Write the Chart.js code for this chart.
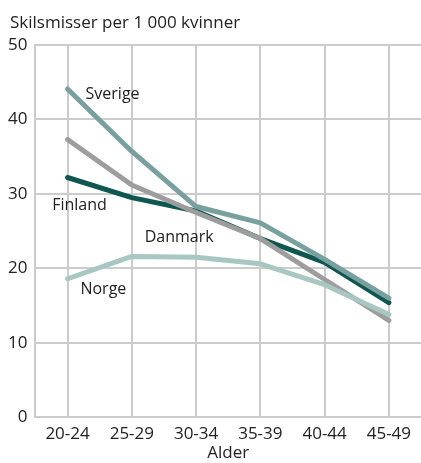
<!DOCTYPE html>
<html>
<head>
<meta charset="utf-8">
<script src="https://cdn.jsdelivr.net/npm/chart.js@4"></script>
<style>
  html, body { margin: 0; padding: 0; background: #fff; }
  #wrap { position: relative; width: 421px; height: 463px; }
  #title { position: absolute; left: 10px; top: 10px; font: 17px "Open Sans", sans-serif; color: #222; line-height: 24px; }
</style>
</head>
<body>
<div id="wrap">
  <div id="title">Skilsmisser per 1 000 kvinner</div>
  <canvas id="chart" width="421" height="463"></canvas>
</div>
<script>
const ageGroups = ['20-24', '25-29', '30-34', '35-39', '40-44', '45-49'];
const sverige = [44.1, 35.7, 28.3, 26.1, 21.2, 16.0];
const danmark = [37.3, 31.2, 27.5, 24.0, 18.5, 13.0];
const finland = [32.2, 29.5, 27.7, 24.0, 20.8, 15.4];
const norge = [18.6, 21.6, 21.5, 20.6, 17.8, 13.8];
const yTicks = [0, 10, 20, 30, 40, 50];

// labels placed next to lines: [text, category index, value]
const seriesLabels = [
  ['Sverige', 0.28, 43.4],
  ['Finland', -0.24, 28.4],
  ['Danmark', 1.2, 24.2],
  ['Norge', 0.2, 17.2]
];

const labelPlugin = {
  id: 'seriesLabels',
  afterDatasetsDraw(chart) {
    const ctx = chart.ctx;
    const xs = chart.scales.x, ys = chart.scales.y;
    ctx.save();
    ctx.font = '16px "Open Sans", sans-serif';
    ctx.fillStyle = '#222';
    ctx.textBaseline = 'middle';
    seriesLabels.forEach(l => {
      const step = xs.getPixelForValue(1) - xs.getPixelForValue(0);
      const x = xs.getPixelForValue(0) + l[1] * step;
      ctx.fillText(l[0], x, ys.getPixelForValue(l[2]));
    });
    ctx.restore();
  }
};

const line = (data, color) => ({
  data: data,
  borderColor: color,
  borderWidth: 5,
  pointRadius: 0,
  tension: 0,
  borderCapStyle: 'round',
  borderJoinStyle: 'round'
});

new Chart(document.getElementById('chart'), {
  type: 'line',
  data: {
    labels: ageGroups,
    datasets: [
      line(norge, '#a8c6c2'),
      line(danmark, '#9d9d9d'),
      line(sverige, '#78a09e'),
      line(finland, '#0e5650')
    ]
  },
  options: {
    responsive: false,
    animation: false,
    layout: { padding: { top: 45, right: 0, left: 0, bottom: 0 } },
    plugins: { legend: { display: false }, tooltip: { enabled: false } },
    scales: {
      x: {
        offset: true,
        grid: { offset: false, color: '#cccccc', lineWidth: 2, drawTicks: false },
        border: { display: false },
        ticks: { color: '#222', font: { family: 'Open Sans', size: 17 }, padding: 7, maxRotation: 0 },
        title: { display: true, text: 'Alder', color: '#222', font: { family: 'Open Sans', size: 17 }, padding: { top: -9, bottom: 0 } }
      },
      y: {
        min: 0, max: 50,
        afterBuildTicks: axis => { axis.ticks = yTicks.map(v => ({ value: v })); },
        grid: { color: '#cccccc', lineWidth: 2, drawTicks: false },
        border: { color: '#cccccc', width: 2 },
        ticks: { color: '#222', font: { family: 'Open Sans', size: 17 }, padding: 8 }
      }
    }
  },
  plugins: [labelPlugin]
});
</script>
</body>
</html>
